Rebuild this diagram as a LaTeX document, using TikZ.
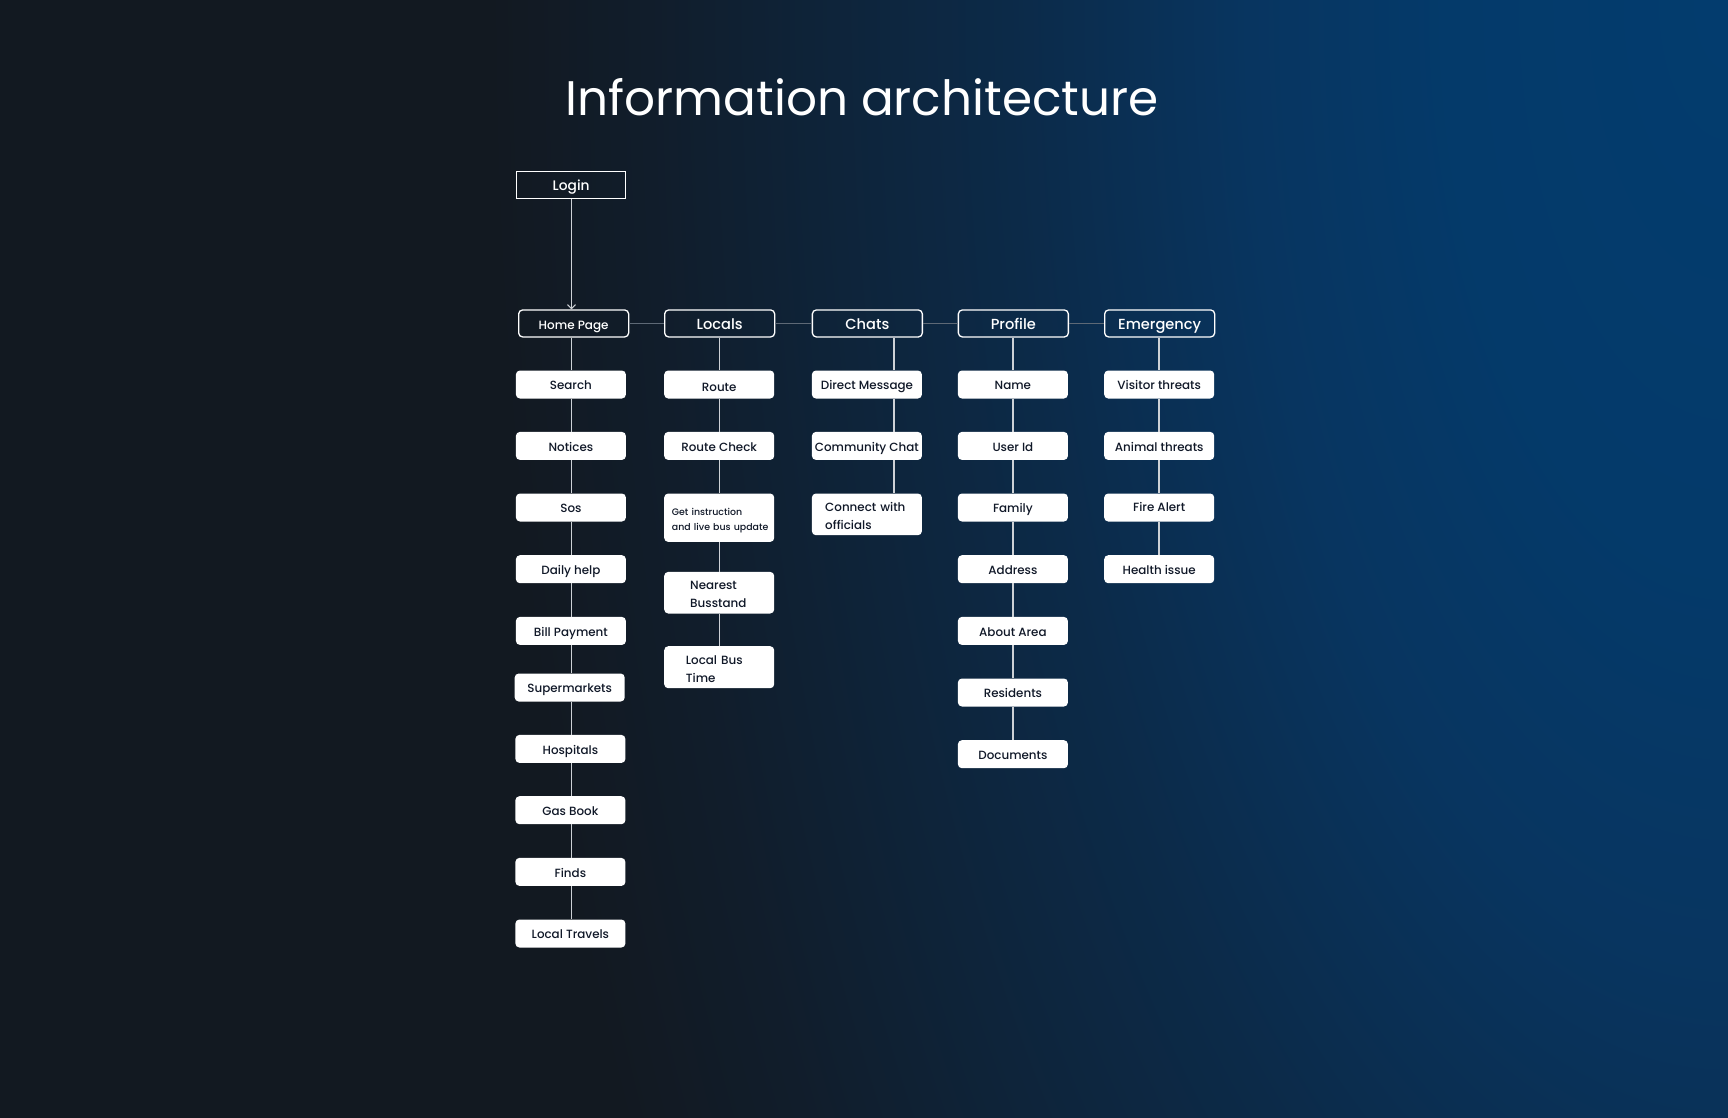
\documentclass[tikz,border=0pt]{standalone}
\usepackage{fontspec}
\setmainfont{Poppins}
\newfontfamily\pmed{Poppins Medium}
\usetikzlibrary{arrows.meta}
\definecolor{bgD}{HTML}{121921}
\definecolor{bg1}{HTML}{033C6E}
\definecolor{bg2}{HTML}{043A6A}
\definecolor{bg3}{HTML}{083560}
\definecolor{bg4}{HTML}{0C2A48}
\definecolor{bg5}{HTML}{0E2338}
\definecolor{bg6}{HTML}{111D2B}
\definecolor{itemtext}{HTML}{101828}
\definecolor{linec}{HTML}{CDD1D6}
\definecolor{hlinec}{HTML}{5E6976}
\pgfdeclareradialshading{bgshade}{\pgfpoint{0bp}{0bp}}{color(0bp)=(bg1); color(3.5bp)=(bg2); color(6bp)=(bg3); color(9bp)=(bg4); color(11.5bp)=(bg5); color(13.5bp)=(bg6); color(15.5bp)=(bgD); color(50bp)=(bgD)}
\newcommand{\twolines}[3]{\raisebox{#1}{\begin{tabular}{@{}l@{}}#2\\#3\end{tabular}}}
\tikzset{
  hdr/.style={draw=white, line width=1.3pt, rounded corners=4pt, minimum width=110pt, minimum height=27pt, inner sep=0pt, anchor=north west, text=white, font=\pmed\fontsize{14.6}{18}\selectfont, text height=0.7em+4.2pt, text depth=0pt},
  itembase/.style={fill=white, rounded corners=4pt, minimum width=110pt, inner sep=0pt, anchor=north west, text=itemtext},
  itm/.style={itembase, minimum height=28pt, font=\pmed\fontsize{11.9}{18}\selectfont, text height=0.7em+3.2pt, text depth=0pt},
  multi/.style={itembase, align=left, font=\pmed\fontsize{11.9}{18}\selectfont, text height=20pt, text depth=14pt},
  vline/.style={draw=linec, line width=1.2pt},
  hline/.style={draw=hlinec, line width=1pt},
}
\begin{document}
\begin{tikzpicture}[x=1pt, y=-1pt]
\useasboundingbox (0,0) rectangle (1728,1117);
\fill[bgD] (0,0) rectangle (1728,1117);
\begin{scope}
  \clip (0,0) rectangle (1728,1117);
  \shade[shading=bgshade] (1728,0) ellipse [x radius=2000pt, y radius=4000pt];
\end{scope}

\node[anchor=base, text=white, font=\fontsize{48.5}{60}\selectfont] (title) at (862,115) {Information architecture};

% column line x positions
\coordinate (x1) at (571.5,0);
\coordinate (x2) at (719.5,0);
\coordinate (x3) at (894,0);
\coordinate (x4) at (1013,0);
\coordinate (x5) at (1159,0);

% Login
\node[draw=white, line width=1.3pt, minimum width=109pt, minimum height=27pt, inner sep=0pt, anchor=north west, text=white, font=\pmed\fontsize{13.8}{18}\selectfont, text height=0.7em+4.2pt, text depth=0pt] (login) at (516,171) {Login};

% headers
\node[hdr, font=\pmed\fontsize{12}{18}\selectfont] (home) at (518,309.3) {Home Page};
\node[hdr] (locals) at (664,309.3) {Locals};
\node[hdr] (chats) at (811.7,309.3) {Chats};
\node[hdr] (profile) at (957.7,309.3) {Profile};
\node[hdr] (emerg) at (1104,309.3) {Emergency};

% Home column
\node[itm] (h1) at (515.7,370.3) {Search};
\node[itm] (h2) at (515.7,431.7) {Notices};
\node[itm] (h3) at (515.7,493.3) {Sos};
\node[itm] (h4) at (515.7,555) {Daily help};
\node[itm] (h5) at (515.7,616.7) {Bill Payment};
\node[itm] (h6) at (514.5,673.3) {Supermarkets};
\node[itm] (h7) at (515.2,734.7) {Hospitals};
\node[itm] (h8) at (515.2,796) {Gas Book};
\node[itm] (h9) at (515.2,857.7) {Finds};
\node[itm] (h10) at (515.2,919.3) {Local Travels};

% Locals column
\node[itm] (l1) at (664,370.3) {\raisebox{-2pt}{Route}};
\node[itm] (l2) at (664,431.7) {Route Check};
\node[multi, minimum height=48.4pt, text width=94.6pt, inner xsep=7.7pt, font=\pmed\fontsize{9.4}{14.3}\selectfont, text height=16pt, text depth=10pt] (l3) at (664,493.3) {\twolines{-1.6pt}{Get instruction}{and live bus update}};
\node[multi, minimum height=41.6pt, text width=58pt, inner xsep=26pt] (l4) at (664,571.7) {\twolines{-2pt}{Nearest}{Busstand}};
\node[multi, minimum height=42pt, text width=66.6pt, inner xsep=21.7pt] (l5) at (664,646) {\twolines{-3pt}{Local Bus}{Time}};

% Chats column
\node[itm] (c1) at (811.7,370.3) {Direct Message};
\node[itm] (c2) at (811.7,431.7) {Community Chat};
\node[multi, minimum height=41.7pt, text width=83.4pt, inner xsep=13.3pt] (c3) at (811.7,493.3) {\twolines{-2.4pt}{Connect with}{officials}};

% Profile column
\node[itm] (p1) at (957.7,370.3) {Name};
\node[itm] (p2) at (957.7,431.7) {User Id};
\node[itm] (p3) at (957.7,493.3) {Family};
\node[itm] (p4) at (957.7,555) {Address};
\node[itm] (p5) at (957.7,616.7) {About Area};
\node[itm] (p6) at (957.7,678.3) {Residents};
\node[itm] (p7) at (957.7,740) {Documents};

% Emergency column
\node[itm] (e1) at (1104,370.3) {Visitor threats};
\node[itm] (e2) at (1104,431.7) {Animal threats};
\node[itm] (e3) at (1104,493.3) {\raisebox{1.5pt}{Fire Alert}};
\node[itm] (e4) at (1104,555) {Health issue};

% connectors
\draw[vline, line width=1pt, -{Straight Barb[length=4pt,width=8pt]}] (login.south -| x1) -- (home.north -| x1);
\draw[hline] (home.east) -- (locals.west);
\draw[hline] (locals.east) -- (chats.west);
\draw[hline] (chats.east) -- (profile.west);
\draw[hline] (profile.east) -- (emerg.west);

\foreach \a/\b in {home/h1,h1/h2,h2/h3,h3/h4,h4/h5,h5/h6,h6/h7,h7/h8,h8/h9,h9/h10}
  \draw[vline] (\a.south -| x1) -- (\b.north -| x1);
\foreach \a/\b in {locals/l1,l1/l2,l2/l3,l3/l4,l4/l5}
  \draw[vline] (\a.south -| x2) -- (\b.north -| x2);
\foreach \a/\b in {chats/c1,c1/c2,c2/c3}
  \draw[vline] (\a.south -| x3) -- (\b.north -| x3);
\foreach \a/\b in {profile/p1,p1/p2,p2/p3,p3/p4,p4/p5,p5/p6,p6/p7}
  \draw[vline] (\a.south -| x4) -- (\b.north -| x4);
\foreach \a/\b in {emerg/e1,e1/e2,e2/e3,e3/e4}
  \draw[vline] (\a.south -| x5) -- (\b.north -| x5);
\end{tikzpicture}
\end{document}
